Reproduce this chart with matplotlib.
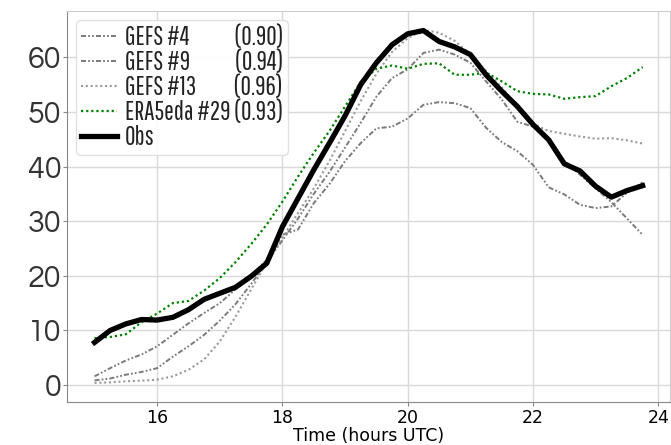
import matplotlib
matplotlib.use("Agg")
import matplotlib.pyplot as plt
import numpy as np
from matplotlib import font_manager
from matplotlib.font_manager import FontProperties

time = np.arange(15.0, 23.76, 0.25)

obs = [7.8, 10.0, 11.2, 12.0, 11.9, 12.4, 13.8, 15.7, 16.8, 17.9, 19.9, 22.3,
       29.0, 34.2, 39.4, 44.3, 49.3, 55.0, 59.0, 62.3, 64.3, 64.9, 62.9, 61.9,
       60.5, 56.8, 53.8, 51.0, 47.7, 44.9, 40.5, 39.2, 36.4, 34.4, 35.6, 36.5]

era5eda_29 = [8.6, 8.8, 9.3, 11.5, 13.1, 15.0, 15.4, 17.3, 19.6, 22.5, 25.8, 29.4,
              33.6, 38.2, 42.5, 46.5, 51.0, 55.5, 57.9, 58.5, 57.9, 58.8, 58.9, 56.8,
              56.8, 57.2, 55.6, 53.8, 53.3, 53.2, 52.4, 52.7, 52.9, 54.7, 56.2, 58.2]

gefs_4 = [1.6, 3.1, 4.5, 5.6, 7.1, 9.2, 11.3, 13.2, 15.0, 17.5, 20.0, 23.0,
          27.5, 28.5, 33.3, 36.8, 41.0, 44.3, 47.0, 47.3, 48.8, 51.3, 51.8, 51.6,
          50.7, 47.1, 44.5, 42.8, 40.3, 36.2, 34.9, 33.0, 32.4, 32.7, 35.2, 37.1]

gefs_9 = [0.85, 1.2, 1.9, 2.4, 3.1, 5.2, 7.1, 9.2, 11.8, 14.8, 18.5, 22.5,
          26.5, 30.5, 35.0, 39.0, 43.5, 48.0, 52.8, 56.2, 57.8, 60.8, 61.4, 60.5,
          59.0, 55.6, 52.3, 48.2, 47.3, 45.0, 41.0, 38.5, 36.0, 33.5, 30.5, 27.5]

gefs_13 = [0.4, 0.5, 0.7, 0.8, 1.0, 1.6, 2.8, 4.7, 8.0, 12.5, 17.5, 22.5,
           27.0, 31.5, 36.0, 41.0, 46.5, 52.0, 57.0, 61.0, 63.5, 65.0, 64.5, 63.0,
           60.5, 57.5, 54.5, 51.0, 47.8, 46.5, 46.0, 45.5, 45.1, 45.2, 44.8, 44.2]

names = ["GEFS #4", "GEFS #9", "GEFS #13", "ERA5eda #29", "Obs"]
scores = ["(0.90)", "(0.94)", "(0.96)", "(0.93)", ""]

available = {f.name for f in font_manager.fontManager.ttflist}


def pick(prefs):
    for p in prefs:
        if p in available:
            return p
    return "DejaVu Sans"


legend_font = pick(["Pathway Gothic One", "Yanone Kaffeesatz", "PT Sans Narrow",
                    "Open Sans Condensed", "Roboto Condensed", "Archivo Narrow"])
tick_font = pick(["Questrial", "Didact Gothic", "URW Gothic", "Lato"])

fig = plt.figure(figsize=(6.71, 4.45), dpi=100)
ax = fig.add_axes([0.0998, 0.0966, 0.899, 0.879])
renderer = fig.canvas.get_renderer()
fp = FontProperties(family=[legend_font, "DejaVu Sans"], size=18.5)


def text_width(s):
    t = fig.text(0, 0, s + "(", fontproperties=fp)
    w = t.get_window_extent(renderer).width
    t.remove()
    return w


target = text_width(names[3] + " ")
labels = []
for n, sc in zip(names, scores):
    if not sc:
        labels.append(n)
        continue
    k = 1
    while text_width(n + " " * (k + 1)) <= target + 1 and k < 20:
        k += 1
    labels.append(n + " " * k + sc)

dashdotdot = (0, (2.6, 1.1, 0.9, 1.1, 0.9, 1.1))
ax.plot(time, gefs_4, color="#7a7a7a", lw=1.4, linestyle=dashdotdot, label=labels[0])
ax.plot(time, gefs_9, color="#7a7a7a", lw=1.4, linestyle=dashdotdot, label=labels[1])
ax.plot(time, gefs_13, color="#9a9a9a", lw=1.5, linestyle=(0, (1.0, 1.3)), label=labels[2])
ax.plot(time, era5eda_29, color="#008000", lw=1.6, linestyle=(0, (1.0, 1.3)), label=labels[3])
ax.plot(time, obs, color="black", lw=3.8, label=labels[4])

ax.set_xlim(14.56, 24.19)
ax.set_ylim(-3.1, 68.5)
ax.set_xticks([16, 18, 20, 22, 24])
ax.set_yticks([0, 10, 20, 30, 40, 50, 60])
ax.grid(True, color="#d9d9d9", lw=1.0)
ax.set_axisbelow(True)
for s in ["top", "right"]:
    ax.spines[s].set_color("#cccccc")
for s in ["left", "bottom"]:
    ax.spines[s].set_color("#888888")
ax.tick_params(axis="y", labelsize=22, colors="#333333", length=3, color="#888888", pad=1)
ax.tick_params(axis="x", labelsize=12.5, colors="black", length=3, color="#888888", pad=2)
for t in ax.get_yticklabels():
    t.set_family([tick_font, "DejaVu Sans"])
ax.set_xlabel("Time (hours UTC)", fontsize=12.5, labelpad=0)

leg = ax.legend(loc="upper left", prop=fp, handlelength=1.4, handletextpad=0.3,
                labelspacing=0.0, borderpad=0.2, borderaxespad=0.35, framealpha=0.9,
                fancybox=True)
leg.get_frame().set_edgecolor("#dddddd")
for t in leg.get_texts():
    t.set_color("#222222")

fig.savefig("out.png", dpi=100)
